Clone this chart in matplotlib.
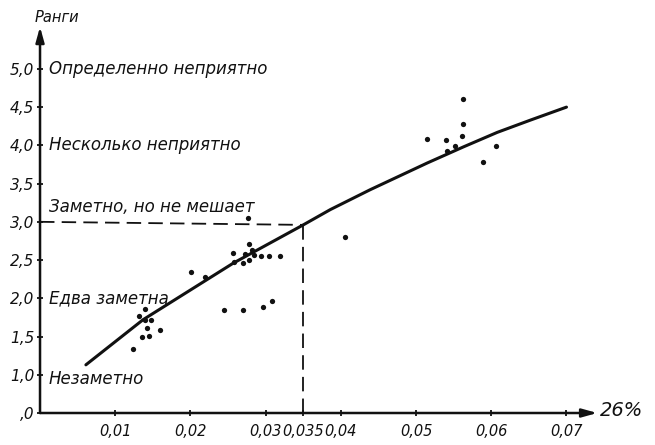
import numpy as np
import matplotlib
matplotlib.use("Agg")
import matplotlib.pyplot as plt

plt.rcParams['font.family'] = ['DejaVu Sans']

# Observed ranks vs concentration
obs_x = [0.0123, 0.0132, 0.0140, 0.0136, 0.0145, 0.0142, 0.0148, 0.0140, 0.0159,
         0.0201, 0.0220, 0.0257, 0.0258, 0.0272, 0.0270, 0.0278, 0.0282, 0.0278,
         0.0285, 0.0294, 0.0305, 0.0319, 0.0245, 0.0270, 0.0296, 0.0308, 0.0277,
         0.0405,
         0.0562, 0.0562, 0.0561, 0.0515, 0.0540, 0.0552, 0.0541, 0.0606, 0.0589]
obs_y = [1.34, 1.77, 1.86, 1.50, 1.51, 1.61, 1.71, 1.72, 1.58,
         2.35, 2.28, 2.59, 2.48, 2.58, 2.46, 2.71, 2.63, 2.50,
         2.56, 2.55, 2.55, 2.55, 1.85, 1.85, 1.89, 1.96, 3.05,
         2.80,
         4.60, 4.28, 4.12, 4.08, 4.07, 3.99, 3.93, 3.99, 3.78]

# Fitted curve
curve_x = [0.0061, 0.0137, 0.0257, 0.0350, 0.0386, 0.0439, 0.0515, 0.0563,
           0.0608, 0.0652, 0.0700]
curve_y = [1.13, 1.72, 2.46, 2.96, 3.16, 3.42, 3.77, 3.98,
           4.17, 4.33, 4.50]

threshold_x = 0.035
threshold_y = 3.0

x_ticks = [0.01, 0.02, 0.03, 0.035, 0.04, 0.05, 0.06, 0.07]
x_tick_labels = ["0,01", "0,02", "0,03", "0,035", "0,04", "0,05", "0,06", "0,07"]
y_ticks = [0.5, 1.0, 1.5, 2.0, 2.5, 3.0, 3.5, 4.0, 4.5, 5.0]
y_tick_labels = [",0", "1,0", "1,5", "2,0", "2,5", "3,0", "3,5", "4,0", "4,5", "5,0"]

levels_y = [5.0, 4.0, 3.2, 2.0, 0.95]
levels_text = ["Определенно неприятно", "Несколько неприятно",
               "Заметно, но не мешает", "Едва заметна", "Незаметно"]

fig = plt.figure(figsize=(6.55, 4.45), dpi=100)
ax = fig.add_axes([0.0611, 0.0719, 0.8669, 0.8764])
ax.set_xlim(0, 0.0755)
ax.set_ylim(0.5, 5.6)
for s in ax.spines.values():
    s.set_visible(False)

ink = "#111111"

# axes with arrows
ax.annotate("", xy=(0.0741, 0.5), xytext=(0, 0.5),
            arrowprops=dict(arrowstyle="-|>,head_length=0.9,head_width=0.25",
                            lw=1.8, color=ink, shrinkA=0, shrinkB=0),
            annotation_clip=False)
ax.annotate("", xy=(0, 5.55), xytext=(0, 0.5),
            arrowprops=dict(arrowstyle="-|>,head_length=0.9,head_width=0.25",
                            lw=1.8, color=ink, shrinkA=0, shrinkB=0),
            annotation_clip=False)

ax.set_xticks(x_ticks)
ax.set_xticklabels(x_tick_labels, fontstyle="italic", fontsize=10.5)
ax.set_yticks(y_ticks)
ax.set_yticklabels(y_tick_labels, fontstyle="italic", fontsize=11)
ax.tick_params(axis="both", colors=ink, width=1.3, length=4, direction="inout")
ax.tick_params(axis="x", pad=6)
ax.tick_params(axis="y", pad=2)

# threshold guides
y_at_thr = np.interp(threshold_x, curve_x, curve_y)
ax.plot([0, threshold_x], [threshold_y, y_at_thr], color=ink, lw=1.3,
        dashes=(8, 4))
ax.plot([threshold_x, threshold_x], [0.5, y_at_thr], color=ink, lw=1.3,
        dashes=(8, 4))

ax.plot(curve_x, curve_y, color=ink, lw=2.2, solid_capstyle="round",
        solid_joinstyle="round")
ax.plot(obs_x, obs_y, "o", color=ink, ms=3.8, mec="none")

for yv, t in zip(levels_y, levels_text):
    ax.text(0.0012, yv, t, fontsize=12, fontstyle="italic", color=ink,
            va="center", ha="left")

ax.text(0.0023, 5.67, "Ранги", fontsize=10.5, fontstyle="italic", color=ink,
        ha="center", va="center", clip_on=False)
ax.text(0.0744, 0.53, "26%", fontsize=14, fontstyle="italic", color=ink,
        ha="left", va="center", clip_on=False)

fig.savefig("out.png", dpi=100, facecolor="white")
